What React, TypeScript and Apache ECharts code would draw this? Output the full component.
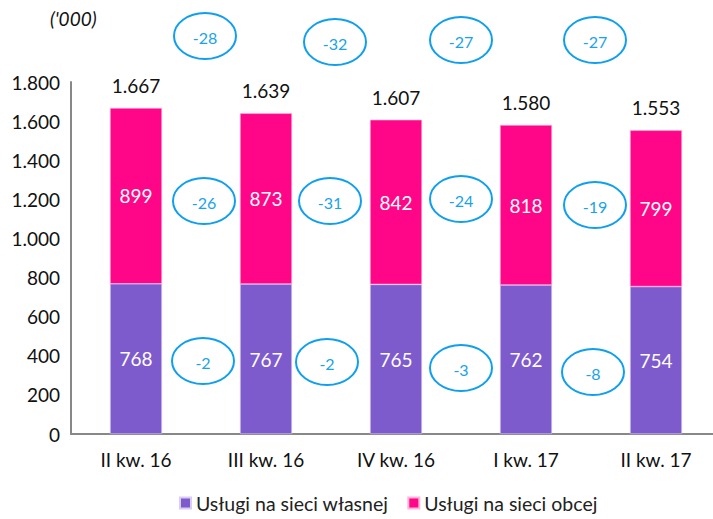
import React, { useEffect, useRef } from "react";
import * as echarts from "echarts";

const categories = ["II kw. 16", "III kw. 16", "IV kw. 16", "I kw. 17", "II kw. 17"];
const ownNetwork = [768, 767, 765, 762, 754];
const otherNetwork = [899, 873, 842, 818, 799];
const totals = [1667, 1639, 1607, 1580, 1553];
const totalChanges = [-28, -32, -27, -27];
const otherChanges = [-26, -31, -24, -19];
const ownChanges = [-2, -2, -3, -8];
const seriesNames = ["Usługi na sieci własnej", "Usługi na sieci obcej"];

const topRowY = [36, 42, 40, 40];
const midRowY = [201, 201, 199, 205];
const lowRowY = [361, 362, 368, 372];
const rowDx = [[4, 4, 0, 4], [3, -1, 0, 4], [2, -4, 0, 2]];

const FONT = "Lato, 'Open Sans', sans-serif";
const fmt = (v: number) => {
  const s = String(Math.round(v));
  return s.replace(/\B(?=(\d{3})+(?!\d))/g, ".");
};

export default function App() {
  const ref = useRef<HTMLDivElement>(null);
  useEffect(() => {
    if (!ref.current) return;
    const chart = echarts.init(ref.current, null, { renderer: "svg" });
    chart.setOption({
      animation: false,
      grid: { left: 71, width: 650, top: 82, bottom: 85, outerBoundsMode: "none", containLabel: false },
      legend: {
        bottom: 1,
        left: 174,
        itemWidth: 11,
        itemHeight: 11,
        itemGap: 19,
        icon: "rect",
        textStyle: { fontFamily: FONT, fontSize: 19.5, color: "#222" },
        data: seriesNames,
      },
      xAxis: {
        type: "category",
        data: categories,
        axisLine: { lineStyle: { color: "#888", width: 2 } },
        axisTick: { show: false },
        axisLabel: { fontFamily: FONT, fontSize: 19, color: "#111", margin: 16 },
      },
      yAxis: {
        type: "value",
        min: 0,
        max: 1800,
        interval: 200,
        axisLine: { show: true, lineStyle: { color: "#888", width: 2 } },
        axisTick: { show: false },
        splitLine: { show: false },
        axisLabel: {
          fontFamily: FONT,
          fontSize: 19,
          color: "#111",
          margin: 11,
          formatter: (v: number) => fmt(v),
        },
      },
      series: [
        {
          name: seriesNames[0],
          type: "bar",
          stack: "t",
          barWidth: "40%",
          data: ownNetwork,
          itemStyle: { color: "#7E5BCD", borderColor: "#d9cdf2", borderWidth: 0.6 },
          label: {
            show: true,
            position: "inside",
            color: "#fff",
            fontFamily: FONT,
            fontSize: 19,
          },
        },
        {
          name: seriesNames[1],
          type: "bar",
          stack: "t",
          barWidth: "40%",
          data: otherNetwork,
          itemStyle: { color: "#FF0588", borderColor: "#ffb3da", borderWidth: 0.6 },
          label: {
            show: true,
            position: "inside",
            color: "#fff",
            fontFamily: FONT,
            fontSize: 19,
          },
        },
        {
          name: "total",
          type: "bar",
          stack: "t",
          barWidth: "40%",
          data: totals.map(() => 0),
          itemStyle: { color: "transparent" },
          tooltip: { show: false },
          label: {
            show: true,
            position: "top",
            distance: 13,
            color: "#111",
            fontFamily: FONT,
            fontSize: 19,
            formatter: (p: any) => fmt(totals[p.dataIndex]),
          },
        },
      ],
    });

    const graphics: any[] = [
      {
        type: "text",
        left: 50,
        top: 9,
        style: {
          text: "('000)",
          fontFamily: FONT,
          fontStyle: "italic",
          fontSize: 19,
          fill: "#111",
        },
      },
    ];
    const rows = [
      { vals: totalChanges, ys: topRowY },
      { vals: otherChanges, ys: midRowY },
      { vals: ownChanges, ys: lowRowY },
    ];
    rows.forEach((row, ri) => {
      row.vals.forEach((v, i) => {
        const x0 = chart.convertToPixel({ xAxisIndex: 0 }, i) as number;
        const x1 = chart.convertToPixel({ xAxisIndex: 0 }, i + 1) as number;
        const cx = (x0 + x1) / 2 + rowDx[ri][i];
        const cy = row.ys[i];
        graphics.push({
          type: "ellipse",
          shape: { cx, cy, rx: 31, ry: 23 },
          style: { fill: "none", stroke: "#109FEE", lineWidth: 2 },
        });
        graphics.push({
          type: "text",
          x: cx,
          y: cy + 1,
          style: {
            text: String(v),
            align: "center",
            verticalAlign: "middle",
            fontFamily: FONT,
            fontSize: 16,
            fill: "#18A3EA",
          },
        });
      });
    });
    chart.setOption({ graphic: graphics });
    return () => chart.dispose();
  }, []);
  return (
    <div
      ref={ref}
      style={{ position: "absolute", left: 0, top: 0, width: 713, height: 519 }}
    />
  );
}
